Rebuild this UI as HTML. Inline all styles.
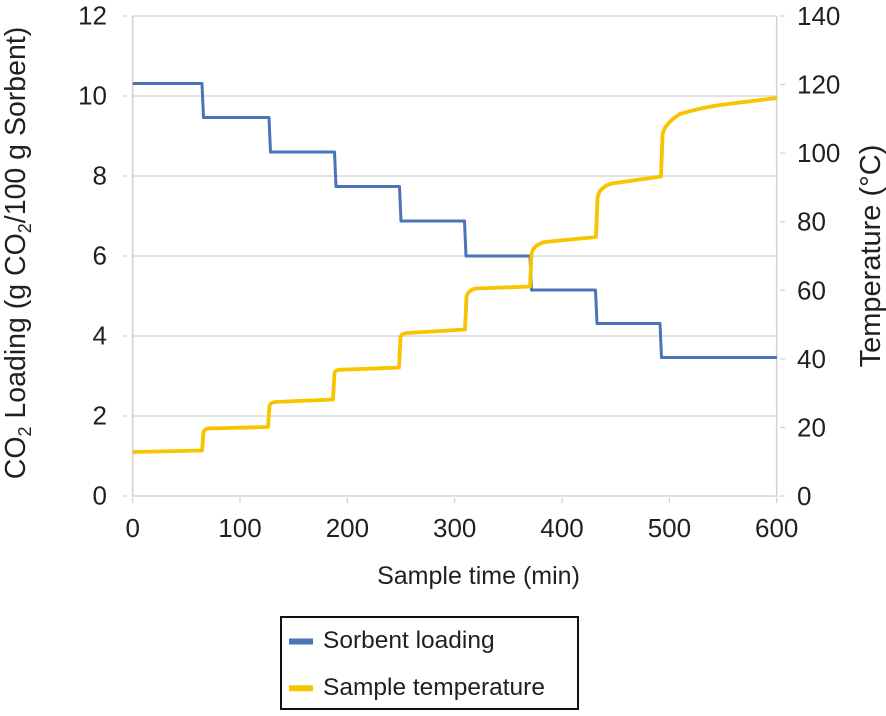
<!DOCTYPE html>
<html>
<head>
<meta charset="utf-8">
<style>
  html,body{margin:0;padding:0;background:#fff;}
  svg{display:block;}
  text{font-family:"Liberation Sans", Arial, Helvetica, sans-serif; fill:#231f20;}
</style>
</head>
<body>
<svg width="886" height="716" viewBox="0 0 886 716" xmlns="http://www.w3.org/2000/svg">
  <!-- grid lines -->
  <g stroke="#d9d9d9" stroke-width="1.6" fill="none">
    <line x1="132.7" y1="16" x2="776.7" y2="16"/>
    <line x1="132.7" y1="96" x2="776.7" y2="96"/>
    <line x1="132.7" y1="176" x2="776.7" y2="176"/>
    <line x1="132.7" y1="256" x2="776.7" y2="256"/>
    <line x1="132.7" y1="336" x2="776.7" y2="336"/>
    <line x1="132.7" y1="416" x2="776.7" y2="416"/>
  </g>
  <!-- axes -->
  <g stroke="#d4d4d4" stroke-width="1.6" fill="none">
    <line x1="132.7" y1="16" x2="132.7" y2="497"/>
    <line x1="776.7" y1="16" x2="776.7" y2="497"/>
    <line x1="132.7" y1="496" x2="776.7" y2="496"/>
  </g>
  <!-- ticks -->
  <g stroke="#cfcfcf" stroke-width="1.2">
    <line x1="123" y1="16" x2="127" y2="16"/>
    <line x1="123" y1="96" x2="127" y2="96"/>
    <line x1="123" y1="176" x2="127" y2="176"/>
    <line x1="123" y1="256" x2="127" y2="256"/>
    <line x1="123" y1="336" x2="127" y2="336"/>
    <line x1="123" y1="416" x2="127" y2="416"/>
    <line x1="123" y1="496" x2="127" y2="496"/>

    <line x1="780" y1="16" x2="785" y2="16"/>
    <line x1="780" y1="84.6" x2="785" y2="84.6"/>
    <line x1="780" y1="153.1" x2="785" y2="153.1"/>
    <line x1="780" y1="221.7" x2="785" y2="221.7"/>
    <line x1="780" y1="290.3" x2="785" y2="290.3"/>
    <line x1="780" y1="358.9" x2="785" y2="358.9"/>
    <line x1="780" y1="427.4" x2="785" y2="427.4"/>
    <line x1="780" y1="496" x2="785" y2="496"/>

    <line x1="132.7" y1="498" x2="132.7" y2="503"/>
    <line x1="240" y1="498" x2="240" y2="503"/>
    <line x1="347.4" y1="498" x2="347.4" y2="503"/>
    <line x1="454.7" y1="498" x2="454.7" y2="503"/>
    <line x1="562" y1="498" x2="562" y2="503"/>
    <line x1="669.4" y1="498" x2="669.4" y2="503"/>
    <line x1="776.7" y1="498" x2="776.7" y2="503"/>
  </g>

  <!-- left tick labels -->
  <g font-size="26" text-anchor="end">
    <text x="107" y="24.5">12</text>
    <text x="107" y="104.5">10</text>
    <text x="107" y="184.5">8</text>
    <text x="107" y="264.5">6</text>
    <text x="107" y="344.5">4</text>
    <text x="107" y="424.5">2</text>
    <text x="107" y="504.5">0</text>
  </g>
  <!-- right tick labels -->
  <g font-size="26" text-anchor="start">
    <text x="797" y="25">140</text>
    <text x="797" y="93.6">120</text>
    <text x="797" y="162.1">100</text>
    <text x="797" y="230.7">80</text>
    <text x="797" y="299.3">60</text>
    <text x="797" y="367.9">40</text>
    <text x="797" y="436.4">20</text>
    <text x="797" y="505">0</text>
  </g>
  <!-- x tick labels -->
  <g font-size="26" text-anchor="middle">
    <text x="132.7" y="537">0</text>
    <text x="240" y="537">100</text>
    <text x="347.4" y="537">200</text>
    <text x="454.7" y="537">300</text>
    <text x="562" y="537">400</text>
    <text x="669.4" y="537">500</text>
    <text x="776.7" y="537">600</text>
  </g>

  <!-- axis titles -->
  <text x="478.5" y="584" font-size="25" text-anchor="middle">Sample time (min)</text>
  <text transform="translate(25,253) rotate(-90)" font-size="28.5" text-anchor="middle">CO<tspan font-size="18" dy="6">2</tspan><tspan dy="-6"> Loading (g CO</tspan><tspan font-size="18" dy="6">2</tspan><tspan dy="-6">/100 g Sorbent)</tspan></text>
  <text transform="translate(880,256) rotate(-90)" font-size="29" text-anchor="middle">Temperature (°C)</text>

  <!-- Sorbent loading (blue) -->
  <path d="M132.7,83.5 L202,83.5 L203.5,117.5 L269,117.5 L270.5,152 L334.5,152 L336,186.5 L399.5,186.5 L401,221 L464.5,221 L466,256 L530,256 L531.5,290 L595.5,290 L597,323.5 L660,323.5 L661.5,357.5 L777,357.5"
        fill="none" stroke="#4a73b8" stroke-width="3" stroke-linejoin="round"/>

  <!-- Sample temperature (yellow) -->
  <path d="M132.7,452 L202,450.5 L203.5,432 Q204.5,429 208,428.5 L268,427 L269.5,406 Q270.5,402.5 275,402 L333,399.5 L334.5,373 Q335.5,370 340,369.8 L399,367.5 L400.5,337 Q401.5,333.5 407,333 L465,329.5 L466.5,297 Q468,290 476,288.5 L530,286.5 L531.5,254 Q533,245 545,242 L596,237 L597.5,198 Q599,187 612,183.5 L661,176.5 L662.5,135 Q664,124 680,114 Q700,108 720,105 L777,98"
        fill="none" stroke="#f6c500" stroke-width="3.8" stroke-linejoin="round"/>

  <!-- legend -->
  <rect x="281" y="617" width="297" height="92" fill="#fff" stroke="#111" stroke-width="2"/>
  <line x1="289" y1="641.5" x2="313" y2="641.5" stroke="#4a73b8" stroke-width="6"/>
  <line x1="289" y1="688.3" x2="313" y2="688.3" stroke="#f6c500" stroke-width="6"/>
  <text x="323" y="648" font-size="24.5">Sorbent loading</text>
  <text x="323" y="695" font-size="24.5">Sample temperature</text>
</svg>
</body>
</html>
